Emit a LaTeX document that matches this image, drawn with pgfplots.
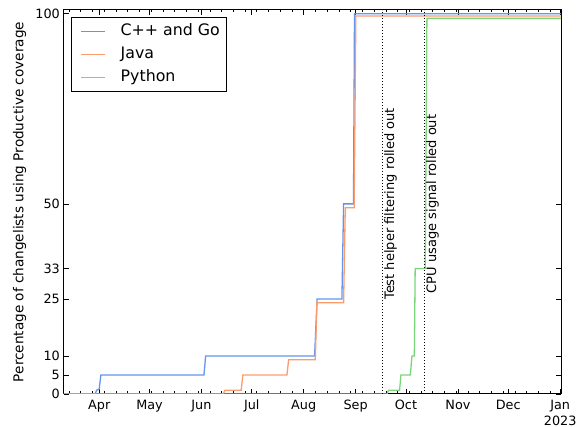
\documentclass[border=0pt]{standalone}
\usepackage{pgfplots}
\pgfplotsset{compat=1.18}
\usepackage{fontspec}
\setmainfont{DejaVu Sans}

\definecolor{cppgo}{RGB}{100,149,237}
\definecolor{java}{RGB}{252,155,110}
\definecolor{python}{RGB}{122,212,122}

% x values are days counted from 1 April 2022
\begin{document}
\begin{tikzpicture}
\useasboundingbox (-64pt,-33pt) rectangle (521pt,394pt);
\begin{axis}[
  at={(0pt,0pt)}, anchor=south west,
  scale only axis, width=497pt, height=384pt,
  xmin=-21, xmax=275.5, ymin=0, ymax=101,
  axis line style={black, line width=1pt},
  tick align=inside, tick pos=both,
  major tick length=5pt, minor tick length=2.5pt,
  tick style={black, line width=0.6pt},
  xtick={0,30,61,91,122,153,183,214,244,275},
  xticklabels={Apr,May,Jun,Jul,Aug,Sep,Oct,Nov,Dec,{\begin{tabular}[t]{@{}c@{}}Jan\\2023\end{tabular}}},
  minor xtick={-18,-11,...,275},
  ytick={0,5,10,25,33,50,100},
  /pgf/number format/assume math mode=true,
  ticklabel style={font=\fontsize{12.8}{15.4}\selectfont},
  xticklabel style={anchor=north, text height=9.5pt, inner sep=0pt, yshift=-6pt},
  yticklabel style={anchor=east, inner sep=0pt, xshift=-4pt},
  ylabel={Percentage of changelists using Productive coverage},
  ylabel style={at={(axis description cs:-0.0895,0.5)}, anchor=center, font=\fontsize{13.6}{16}\selectfont},
  legend style={at={(0.0141,0.982)}, anchor=north west, draw=black, line width=0.8pt, fill=white,
    inner xsep=5pt, inner ysep=4pt, row sep=3pt, font=\fontsize{15.8}{19}\selectfont,
    nodes={inner sep=2pt, text height=12pt, text depth=4pt},
    /tikz/every odd column/.append style={column sep=13pt}},
  legend cell align=left,
  legend image code/.code={\path (-4pt,0pt); \draw[#1] (0pt,0pt) -- (24pt,0pt);},
]
\addplot[cppgo, line width=1.3pt] coordinates {
  (-21,0) (-2.5,0) (-1.5,1) (0,1.3) (1,5) (62.5,5) (63.5,10) (128.5,10) (130,25)
  (144.8,25) (145.8,50) (151.7,50) (152.3,100) (275.5,100)};
\addlegendentry{C++ and Go}
\addplot[java, line width=1.3pt] coordinates {
  (-21,0) (74,0) (75,1) (84.7,1) (85.7,5) (112,5) (113,9) (128.9,9) (129.9,24)
  (145.8,24) (146.8,49) (152.1,49) (153.1,99.4) (275.5,99.4)};
\addlegendentry{Java}
\addplot[python, line width=1.3pt] coordinates {
  (-21,0) (171.7,0) (172.6,1) (179.2,1) (180,5) (185.6,5) (186.6,10) (188,10)
  (188.5,33) (194.5,33) (195.5,98.8) (275.5,98.8)};
\addlegendentry{Python}

% rollout markers
\addplot[black, line width=0.8pt, dash pattern=on 1pt off 2pt, forget plot] coordinates {(169,0) (169,101)};
\addplot[black, line width=0.8pt, dash pattern=on 1pt off 2pt, forget plot] coordinates {(194.1,0) (194.1,101)};
\node[rotate=90, anchor=north, inner sep=1.5pt, font=\fontsize{13}{15}\selectfont] at (axis cs:169,50) {Test helper filtering rolled out};
\node[rotate=90, anchor=north, inner sep=1.5pt, font=\fontsize{13}{15}\selectfont] at (axis cs:194.1,50) {CPU usage signal rolled out};
\end{axis}
\end{tikzpicture}
\end{document}
